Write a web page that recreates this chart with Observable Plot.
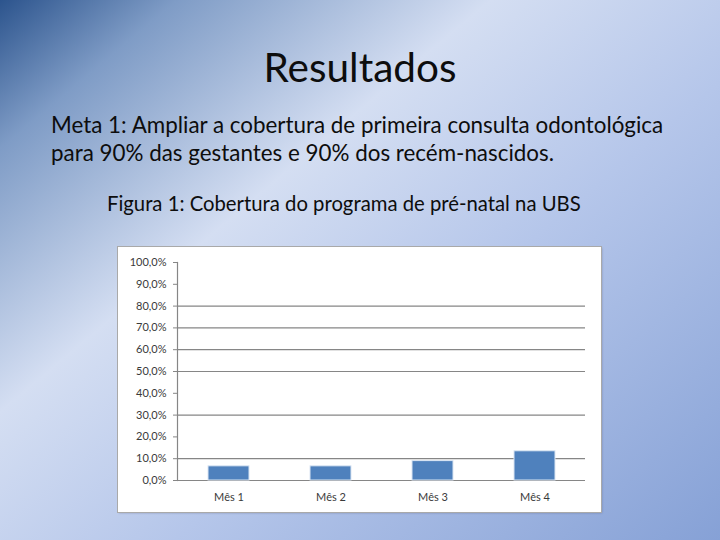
<!DOCTYPE html>
<html>
<head>
<meta charset="utf-8">
<script src="https://cdn.jsdelivr.net/npm/d3@7"></script>
<script src="https://cdn.jsdelivr.net/npm/@observablehq/plot@0.6"></script>
<style>
  html, body { margin: 0; padding: 0; }
  body {
    width: 720px; height: 540px; overflow: hidden; position: relative;
    font-family: Lato, "Open Sans", sans-serif; color: #0d0d0d;
    background: linear-gradient(140deg, #2c548d 0%, #7f9cc6 13%, #d4def2 36%, #b5c6ea 60%, #86a1d6 100%);
  }
  .title { position: absolute; left: 0; width: 720px; top: 41px; text-align: center; font-size: 40.5px; line-height: 52px; }
  .meta { position: absolute; left: 51px; top: 111px; font-size: 22.4px; line-height: 27.5px; width: 680px; }
  .caption { position: absolute; left: 107px; top: 190px; font-size: 20.3px; line-height: 26px; }
  .box { position: absolute; left: 118px; top: 247px; width: 483px; height: 265px; background: #fff;
         box-shadow: 0 0 0 1px #a9a9a9, 1px 1px 2px rgba(60,60,90,0.35); }
  .box svg { display: block; }
</style>
</head>
<body>
<div class="title">Resultados</div>
<div class="meta">Meta 1: Ampliar a cobertura de primeira consulta odontológica<br>para 90% das gestantes e 90% dos recém-nascidos.</div>
<div class="caption">Figura 1: Cobertura do programa de pré-natal na UBS</div>
<div class="box" id="chart"></div>
<script>
const months = ["Mês 1", "Mês 2", "Mês 3", "Mês 4"];
const coverage = [6.5, 6.5, 8.9, 13.4];
const yTicks = [0, 10, 20, 30, 40, 50, 60, 70, 80, 90, 100];
const gridLines = [0, 10, 30, 50, 60, 70, 80];

const data = months.map((m, i) => ({month: m, value: coverage[i]}));
const fmt = d => d.toFixed(1).replace(".", ",") + "%";

const chart = Plot.plot({
  width: 483,
  height: 265,
  marginLeft: 59,
  marginRight: 16,
  marginTop: 15,
  marginBottom: 32,
  style: {fontFamily: "Lato, sans-serif", fontSize: "11px", color: "#3a3a3a", background: "transparent"},
  x: {domain: months, paddingInner: 0.6, paddingOuter: 0.3, label: null},
  y: {domain: [0, 100], label: null},
  marks: [
    Plot.ruleY(gridLines, {stroke: "#868686", strokeWidth: 1.2, strokeOpacity: 1}),
    Plot.barY(data, {x: "month", y: "value", fill: "#4f81bd", stroke: "#dbe6f3", strokeWidth: 1}),
    Plot.frame({anchor: "left", stroke: "#868686", strokeWidth: 1.2}),
    Plot.axisY({ticks: yTicks, tickFormat: fmt, tickSize: 4, tickPadding: 7, stroke: "#868686", fill: "#3a3a3a"}),
    Plot.axisX({tickSize: 0, tickPadding: 13, fill: "#3a3a3a"})
  ]
});
document.getElementById("chart").appendChild(chart);
</script>
</body>
</html>
